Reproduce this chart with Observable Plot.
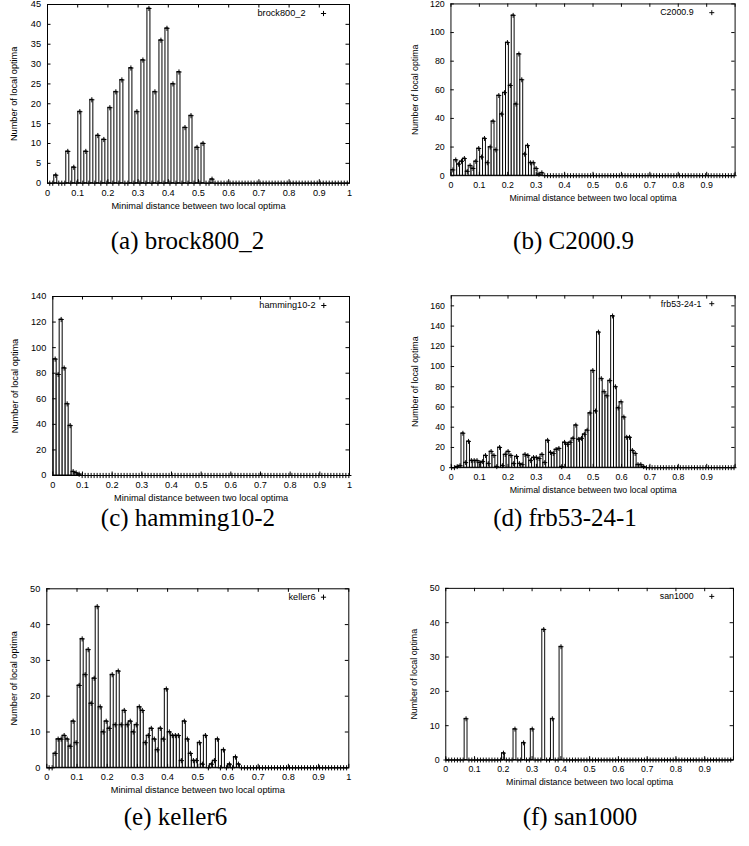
<!DOCTYPE html>
<html><head><meta charset="utf-8">
<script src="https://cdn.jsdelivr.net/npm/d3@7"></script>
<script src="https://cdn.jsdelivr.net/npm/@observablehq/plot@0.6"></script>
<style>
html,body{margin:0;padding:0;background:#fff;overflow:hidden;width:749px;height:846px;}
#root{position:relative;width:749px;height:846px;overflow:hidden;background:#fff;}
.panel{position:absolute;}
.cap{position:absolute;white-space:nowrap;font-family:"Liberation Serif","Times New Roman",serif;font-size:25px;line-height:25px;color:#000;transform:translate(-50%,-50%);}
</style></head><body><div id="root"></div>
<script>
// ---------- DATA ----------
const xTitle = "Minimal distance between two local optima";
const yTitle = "Number of local optima";
const xTicksFull = [0, 0.1, 0.2, 0.3, 0.4, 0.5, 0.6, 0.7, 0.8, 0.9, 1];
const xLabelsFull = [0, 0.1, 0.2, 0.3, 0.4, 0.5, 0.6, 0.7, 0.8, 0.9, 1];
const xLabelsCut = [0, 0.1, 0.2, 0.3, 0.4, 0.5, 0.6, 0.7, 0.8, 0.9];
const yTicksA = [0, 5, 10, 15, 20, 25, 30, 35, 40, 45];
const yTicksB = [0, 20, 40, 60, 80, 100, 120];
const yTicksC = [0, 20, 40, 60, 80, 100, 120, 140];
const yTicksD = [0, 20, 40, 60, 80, 100, 120, 140, 160];
const yTicksEF = [0, 10, 20, 30, 40, 50];

// histogram counts per distance bin (bins continue as zeros up to distance 1)
const brockCounts = [0,0,2,0,0,0,8,0,4,0,18,0,8,0,21,0,12,0,11,0,19,0,23,0,26,0,0,29,0,18,0,31,0,44,0,23,0,36,0,39,0,25,0,28,0,14,0,17,0,9,0,10,0,0,1];
const c2000Counts = [4,11,8,10,12,3,7,5,10,19,13,26,9,20,38,18,56,43,58,93,63,112,50,85,67,15,21,9,9,5,1,2];
const hammingCounts = [91,79,122,84,56,39,3,2,1];
const frbCounts = [0,0,1,2,34,5,26,7,7,7,5,6,12,4,16,12,1,20,2,13,16,12,4,11,4,3,13,12,7,10,10,9,13,5,27,15,14,18,19,1,25,23,25,29,42,28,29,33,37,54,96,56,134,88,75,71,86,150,80,59,65,50,30,30,17,14,3,3,1];
const kellerCounts = [0,0,4,8,8,9,8,6,13,7,23,36,26,33,18,25,45,17,10,13,11,26,12,27,12,16,12,13,10,12,17,16,7,9,11,8,5,11,8,22,10,9,9,9,2,13,8,4,2,2,7,1,9,0,1,2,8,0,5,0,1,0,3,1];
const sanCounts = [0,0,0,0,0,0,0,12,0,0,0,0,0,0,0,0,0,0,0,0,2,0,0,0,9,0,0,5,0,0,9,0,0,0,38,0,0,12,0,0,33];

// bin centres: first bin distance, bin spacing, number of bins up to distance 1
const brockBins = [0.0075, 0.00995, 100];
const c2000Bins = [0.0068, 0.0101, 99];
const hammingBins = [0.008, 0.0101, 99];
const frbBins = [0.0012, 0.00995, 101];
const kellerBins = [0.0077, 0.00995, 100];
const sanBins = [0.0005, 0.01, 100];

const names = ["brock800_2", "C2000.9", "hamming10-2", "frb53-24-1", "keller6", "san1000"];
const captions = ["(a) brock800_2", "(b) C2000.9", "(c) hamming10-2", "(d) frb53-24-1", "(e) keller6", "(f) san1000"];

// ---------- LAYOUT ----------
const layouts = [
  {counts: brockCounts, bins: brockBins, yMax: 45, yTicks: yTicksA, xLabels: xLabelsFull,
   left: 0, top: 0, width: 370, height: 220, x0: 47, x1: 349, yTop: 4, yBot: 182.7,
   yLabelX: 14, xTitleY: 205.7, legEnd: 305, legPlus: 323, legY: 13, cap: [187.5, 240]},
  {counts: c2000Counts, bins: c2000Bins, yMax: 120, yTicks: yTicksB, xLabels: xLabelsCut,
   left: 375, top: 0, width: 390, height: 220, x0: 453.7, x1: 750, yTop: 3.6, yBot: 182.7,
   yLabelX: 416.7, xTitleY: 205.7, legEnd: 706.7, legPlus: 725.7, legY: 12.7, cap: [573.5, 240]},
  {counts: hammingCounts, bins: hammingBins, yMax: 140, yTicks: yTicksC, xLabels: xLabelsFull,
   left: 0, top: 285, width: 370, height: 225, x0: 52.3, x1: 349, yTop: 296, yBot: 475,
   yLabelX: 15, xTitleY: 498, legEnd: 315, legPlus: 323.3, legY: 305, cap: [188, 517]},
  {counts: frbCounts, bins: frbBins, yMax: 170, yTicks: yTicksD, xLabels: xLabelsCut,
   left: 375, top: 285, width: 390, height: 225, x0: 454, x1: 750, yTop: 295.7, yBot: 475,
   yLabelX: 416.7, xTitleY: 498, legEnd: 715, legPlus: 725.7, legY: 304, cap: [565, 517]},
  {counts: kellerCounts, bins: kellerBins, yMax: 50, yTicks: yTicksEF, xLabels: xLabelsFull,
   left: 0, top: 578, width: 370, height: 222, x0: 46.3, x1: 348.3, yTop: 588.3, yBot: 767.3,
   yLabelX: 13.3, xTitleY: 790, legEnd: 315, legPlus: 323, legY: 596.7, cap: [175.5, 816]},
  {counts: sanCounts, bins: sanBins, yMax: 50, yTicks: yTicksEF, xLabels: xLabelsCut,
   left: 375, top: 578, width: 390, height: 222, x0: 448.3, x1: 748.3, yTop: 588.3, yBot: 767.3,
   yLabelX: 415, xTitleY: 790, legEnd: 706.7, legPlus: 725.7, legY: 596.7, cap: [580, 816]}
];

const root = document.getElementById("root");
const TICK = 3.5;
const R = 1.8;

layouts.forEach((p, k) => {
  const [start, step, n] = p.bins;
  const data = Array.from({length: n}, (_, i) => ({x: start + i * step, c: p.counts[i] ?? 0}));
  const bars = data.filter(d => d.c > 0);
  const innerW = p.x1 - p.x0, innerH = p.yBot - p.yTop;
  const mL = p.x0 - p.left, mR = p.left + p.width - p.x1;
  const mT = p.yTop - p.top, mB = p.top + p.height - p.yBot;
  const svg = Plot.plot({
    width: p.width, height: p.height,
    marginLeft: mL, marginRight: mR, marginTop: mT, marginBottom: mB,
    style: {fontFamily: "'Liberation Sans', Arial, sans-serif", fontSize: "9.2px", color: "#000", background: "transparent", overflow: "visible"},
    x: {domain: [0, 1], label: null},
    y: {domain: [0, p.yMax], label: null},
    marks: [
      Plot.rectY(bars, {x1: d => d.x - step / 2, x2: d => d.x + step / 2, y1: 0, y2: "c",
        fill: "white", stroke: "black", strokeWidth: 1}),
      Plot.dot(data, {x: "x", y: "c", symbol: "plus", r: R, stroke: "black", strokeWidth: 1}),
      Plot.ruleX(xTicksFull, {x: d => d, insetTop: innerH - TICK, stroke: "black"}),
      Plot.ruleX(xTicksFull, {x: d => d, insetBottom: innerH - TICK, stroke: "black"}),
      Plot.ruleY(p.yTicks, {y: d => d, insetRight: innerW - TICK, stroke: "black"}),
      Plot.ruleY(p.yTicks, {y: d => d, insetLeft: innerW - TICK, stroke: "black"}),
      Plot.frame({stroke: "black"}),
      Plot.axisX({ticks: p.xLabels, tickSize: 0, tickPadding: 6, tickFormat: d => String(d), label: null}),
      Plot.axisY({ticks: p.yTicks, tickSize: 0, tickPadding: 6.5, tickFormat: d => String(d), label: null}),
      Plot.text([yTitle], {text: d => d, frameAnchor: "left", textAnchor: "middle", lineAnchor: "middle",
        rotate: -90, dx: p.yLabelX - p.x0}),
      Plot.text([xTitle], {text: d => d, frameAnchor: "bottom", textAnchor: "middle", lineAnchor: "middle",
        dy: p.xTitleY - p.yBot}),
      Plot.text([names[k]], {text: d => d, frameAnchor: "top-right", textAnchor: "end", lineAnchor: "middle",
        dx: p.legEnd - p.x1, dy: p.legY - p.yTop}),
      Plot.dot([names[k]], {frameAnchor: "top-right", symbol: "plus", r: R, stroke: "black", strokeWidth: 1,
        dx: p.legPlus - p.x1, dy: p.legY - p.yTop})
    ]
  });
  const div = document.createElement("div");
  div.className = "panel";
  div.style.left = p.left + "px";
  div.style.top = p.top + "px";
  div.appendChild(svg);
  root.appendChild(div);

  const cap = document.createElement("div");
  cap.className = "cap";
  cap.style.left = p.cap[0] + "px";
  cap.style.top = p.cap[1] + "px";
  cap.textContent = captions[k];
  root.appendChild(cap);
});
</script>
</body></html>
